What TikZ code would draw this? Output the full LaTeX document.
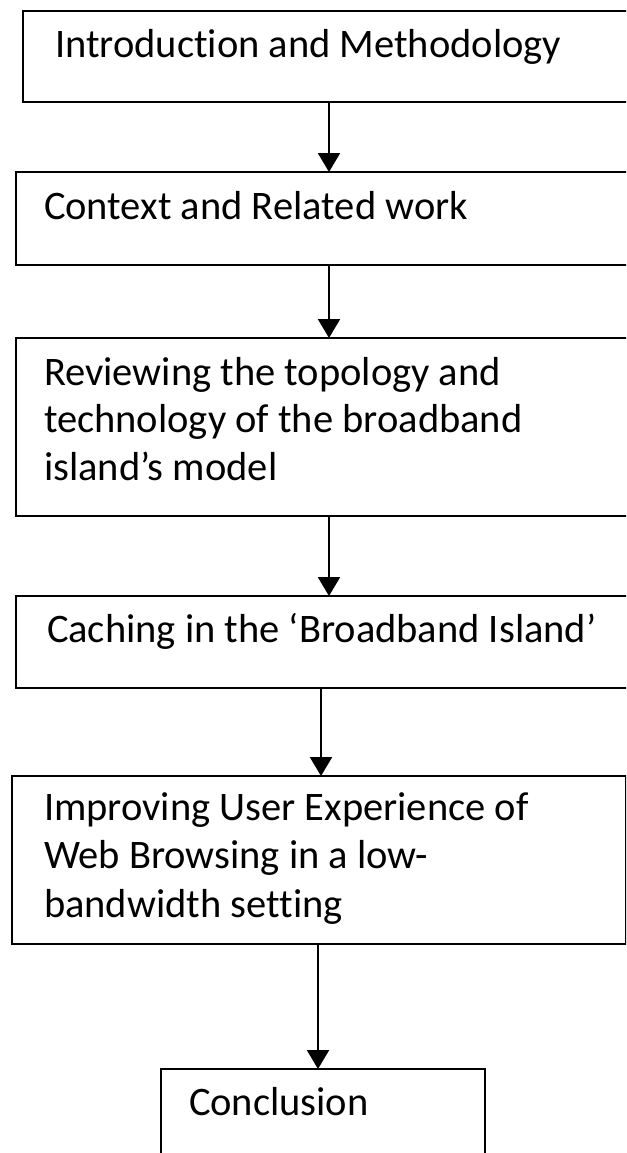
\documentclass[tikz,border=0pt]{standalone}
\usepackage{fontspec}
\setmainfont[Ligatures={NoCommon}]{Carlito}
\usetikzlibrary{arrows.meta}
\tikzset{
  box/.style={draw=black, line width=2.4pt, rectangle, inner sep=0pt, outer sep=0pt, anchor=north west},
  lbl/.style={anchor=base west, inner sep=0pt, outer sep=0pt, align=left, font=\fontsize{40.5}{47.5}\selectfont},
  arr/.style={line width=2.2pt, -{Triangle[width=22pt,length=19pt]}, shorten >=0pt}
}
\begin{document}
\begin{tikzpicture}[x=1pt,y=-1pt]
\useasboundingbox (0,0) rectangle (626,1153);
\clip (0,0) rectangle (626,1153);
% boxes
\node[box, minimum width=617pt, minimum height=91pt] (b1) at (23,11) {};
\node[box, minimum width=624pt, minimum height=93pt] (b2) at (16,172) {};
\node[box, minimum width=624pt, minimum height=178pt] (b3) at (16,338) {};
\node[box, minimum width=624pt, minimum height=92pt] (b4) at (16,596) {};
\node[box, minimum width=614pt, minimum height=168pt] (b5) at (12,776) {};
\node[box, minimum width=324pt, minimum height=100pt] (b6) at (161,1069) {};
% texts (base anchor = last line)
\node[lbl] (t1) at (55,58) {Introduction and Methodology};
\node[lbl] (t2) at (44,219) {Context and Related work};
\node[lbl] (t3) at (44,480) {Reviewing the topology and\\technology of the broadband\\island’s model};
\node[lbl] (t4) at (47,642) {Caching in the ‘Broadband Island’};
\node[lbl, font=\fontsize{40.5}{48.5}\selectfont] (t5) at (44,917) {Improving User Experience of\\Web Browsing in a low-\\bandwidth setting};
\node[lbl] (t6) at (189,1115) {Conclusion};
% arrow columns
\coordinate (c1) at (329,0);
\coordinate (c2) at (329,0);
\coordinate (c3) at (329,0);
\coordinate (c4) at (321,0);
\coordinate (c5) at (318,0);
% connectors
\draw[arr] (b1.south -| c1) -- (b2.north -| c1);
\draw[arr] (b2.south -| c2) -- (b3.north -| c2);
\draw[arr] (b3.south -| c3) -- (b4.north -| c3);
\draw[arr] (b4.south -| c4) -- (b5.north -| c4);
\draw[arr] (b5.south -| c5) -- (b6.north -| c5);
\end{tikzpicture}
\end{document}
